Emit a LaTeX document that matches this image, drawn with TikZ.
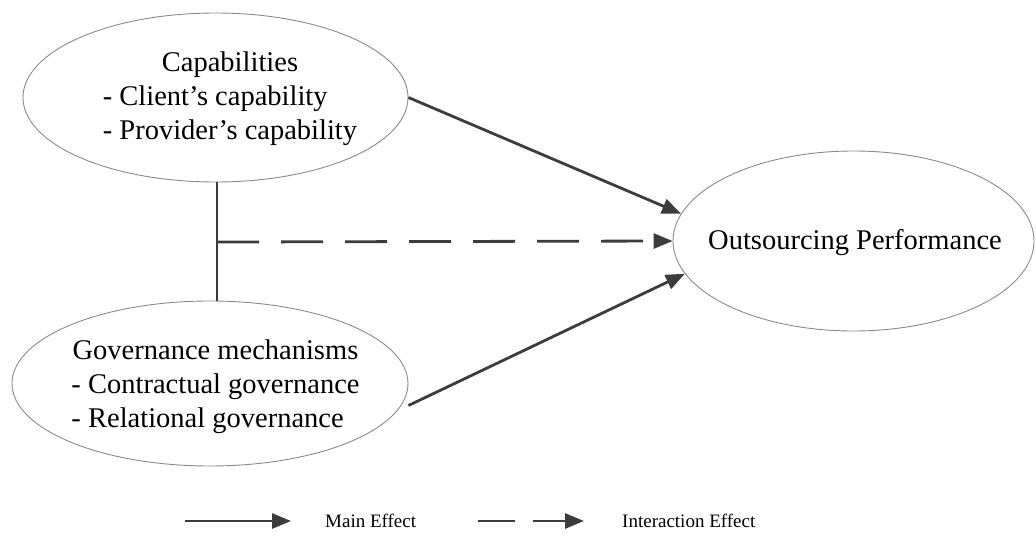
\documentclass[tikz,border=0pt]{standalone}
\usepackage{fontspec}
\setmainfont{Liberation Serif}
\usetikzlibrary{shapes.geometric,arrows.meta}
\definecolor{ink}{HTML}{3C3C3C}
\definecolor{rim}{HTML}{8A8A8A}
\begin{document}
\begin{tikzpicture}[x=1pt,y=-1pt,
  construct/.style={ellipse,draw=rim,line width=0.9pt,inner sep=0pt},
  label/.style={font=\fontsize{28.5}{34}\selectfont,inner sep=0pt,align=left},
  effect/.style={draw=ink,line width=2.8pt,-{Triangle[length=19pt,width=15pt]}},
  interaction/.style={effect,dash pattern=on 42pt off 22pt},
  legendtext/.style={font=\fontsize{19}{22}\selectfont,anchor=west,inner sep=0pt}]
  \useasboundingbox (0,0) rectangle (1036,540);

  % constructs
  \node[construct,minimum width=385pt,minimum height=169pt] (cap) at (215.5,97.5) {};
  \node[construct,minimum width=396pt,minimum height=165pt] (gov) at (210,383.5) {};
  \node[construct,minimum width=361pt,minimum height=180pt] (perf) at (853.5,241) {};

  \node[label] (capt) at (230,99) {\begin{tabular}{@{}l@{}}\multicolumn{1}{@{}c@{}}{Capabilities\hspace{28pt}}\\- Client’s capability\\- Provider’s capability\end{tabular}};
  \node[label] (govt) at (215.5,387) {\begin{tabular}{@{}l@{}}\multicolumn{1}{@{}c@{}}{Governance mechanisms\hspace{21pt}}\\- Contractual governance\\- Relational governance\end{tabular}};
  \node[label] (perft) at (855,243) {Outsourcing Performance};

  % moderation link between the two antecedents
  \coordinate (ctop) at (217,182);
  \coordinate (cbot) at (217,301);
  \coordinate (cmid) at (217,242);
  \draw[ink,line width=2.6pt] (ctop) -- (cbot);

  % main effects
  \draw[effect] (cap.east) -- (perf.171);
  \draw[effect] (gov.east) ++(0,22) coordinate (govout) -- (perf.191);
  % interaction effect
  \draw[interaction] (cmid) -- (perf.west);

  % legend
  \coordinate (l1a) at (185,521);
  \coordinate (l1b) at (291,521);
  \draw[effect] (l1a) -- (l1b);
  \node[legendtext] (l1t) at (325,521) {Main Effect};
  \coordinate (l2a) at (478,521);
  \coordinate (l2b) at (584,521);
  \draw[effect,dash pattern=on 37pt off 18pt] (l2a) -- (l2b);
  \node[legendtext] (l2t) at (622,521) {Interaction Effect};
\end{tikzpicture}
\end{document}
